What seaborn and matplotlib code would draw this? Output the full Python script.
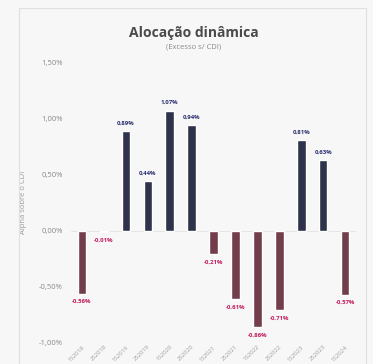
import numpy as np
import pandas as pd
import matplotlib
matplotlib.use("Agg")
import matplotlib.pyplot as plt
from matplotlib.patches import Rectangle
import seaborn as sns

# data (alpha over CDI, in %)
periods = ['1S2018', '2S2018', '1S2019', '2S2019', '1S2020', '2S2020', '1S2021',
           '2S2021', '1S2022', '2S2022', '1S2023', '2S2023', '1S2024']
alpha = [-0.56, -0.01, 0.89, 0.44, 1.07, 0.94, -0.21,
         -0.61, -0.86, -0.71, 0.81, 0.63, -0.57]
y_ticks = [-1.0, -0.5, 0.0, 0.5, 1.0, 1.5]

pos_bar = '#2a2f4e'
neg_bar = '#7b3548'
pos_txt = '#2a2f6e'
neg_txt = '#c2185b'

df = pd.DataFrame({'periodo': periods, 'alpha': alpha})
df['sinal'] = np.where(df['alpha'] >= 0, 'pos', 'neg')

sns.set_theme(style='white')
plt.rcParams['font.family'] = ['Open Sans', 'DejaVu Sans']

fig = plt.figure(figsize=(3.73, 3.64), dpi=100, facecolor='#f7f7f7')
ax = fig.add_axes([0.19, 0.058, 0.765, 0.77])
ax.set_facecolor('#f7f7f7')

sns.barplot(data=df, x='periodo', y='alpha', hue='sinal', order=periods,
            palette={'pos': pos_bar, 'neg': neg_bar}, dodge=False,
            width=0.38, legend=False, ax=ax)

for cont in ax.containers:
    vals = [b.get_height() for b in cont]
    labs = [('%.2f%%' % v).replace('.', ',') if not np.isnan(v) else '' for v in vals]
    colors = [pos_txt if v >= 0 else neg_txt for v in vals]
    texts = ax.bar_label(cont, labels=labs, padding=4, fontsize=4.3, fontweight='bold')
    for t, c in zip(texts, colors):
        t.set_color(c)

ax.set_ylim(-1.0, 1.5)
ax.set_yticks(y_ticks)
ax.set_yticklabels([('%.2f%%' % v).replace('.', ',') for v in y_ticks],
                   fontsize=5.5, color='#8a8a8a')
ax.tick_params(axis='x', labelsize=4.3, labelcolor='#a0a0a0', rotation=45, pad=1, length=0)
for t in ax.get_xticklabels():
    t.set_ha('right')
    t.set_rotation_mode('anchor')
ax.tick_params(length=0, pad=6, axis='y')
ax.set_xlabel('')
ax.set_ylabel('Alpha sobre o CDI', fontsize=5.5, color='#9a9a9a', labelpad=8)
ax.axhline(0, color='#e2e2e2', lw=0.6, zorder=0)
sns.despine(ax=ax, left=True, bottom=True)

fig.text(0.52, 0.908, 'Alocação dinâmica', ha='center', va='center',
         fontsize=10, fontweight='bold', color='#4a4a4a')
fig.text(0.52, 0.870, '(Excesso s/ CDI)', ha='center', va='center',
         fontsize=5.5, color='#8a8a8a')

# light card border
fig.patches.append(Rectangle((0.05, -0.1), 0.93, 1.078, transform=fig.transFigure,
                             fill=False, edgecolor='#e0e0e0', lw=0.8))

fig.savefig('out.png', dpi=100, facecolor=fig.get_facecolor())
